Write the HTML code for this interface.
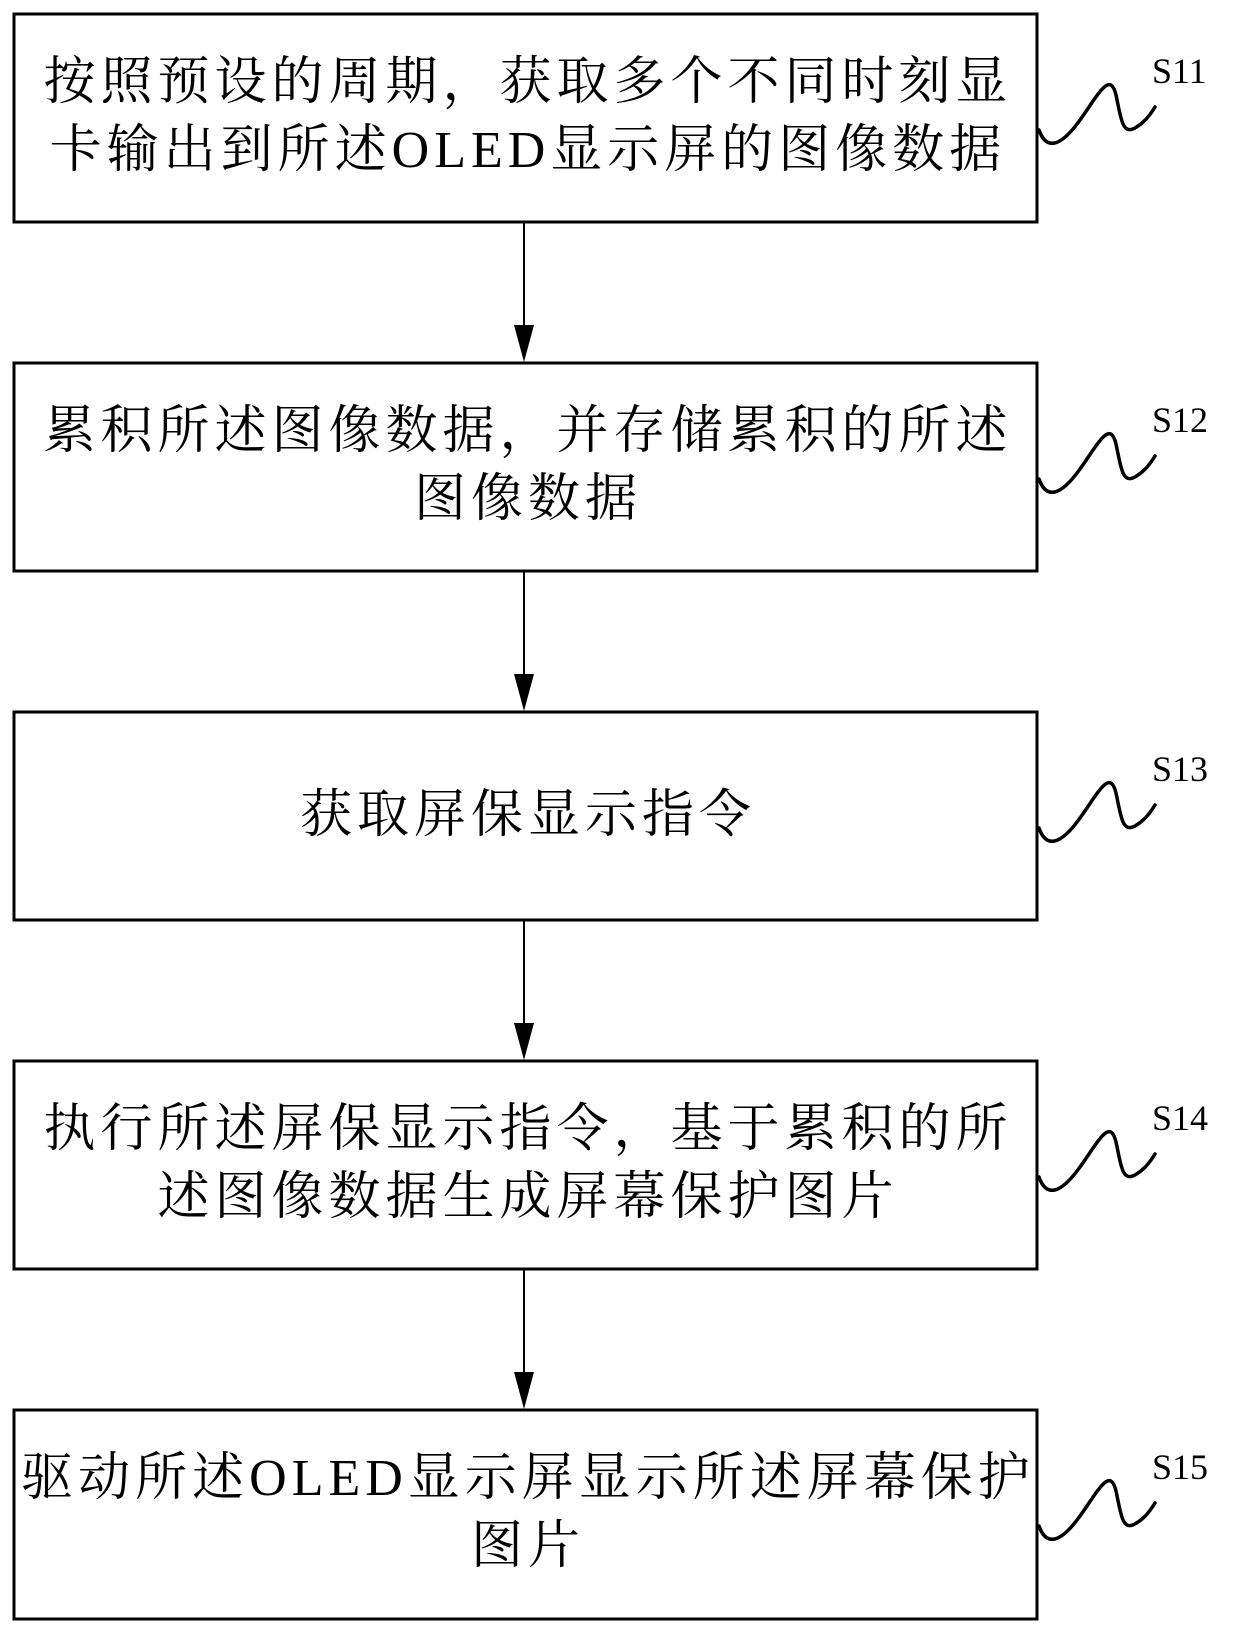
<!DOCTYPE html>
<html><head><meta charset="utf-8"><style>
html,body{margin:0;padding:0;background:#fff;}
svg{display:block;}
.t{font-family:"Liberation Serif","Noto Serif CJK SC",serif;font-size:52px;letter-spacing:5px;fill:#000;}
.l{font-family:"Liberation Serif",serif;font-size:36px;fill:#000;}
</style></head><body>
<svg width="1240" height="1636" viewBox="0 0 1240 1636" xmlns="http://www.w3.org/2000/svg">
<g fill="none" stroke="#000" stroke-width="3">
<rect x="14" y="14" width="1023" height="208"/>
<rect x="14" y="363" width="1023" height="208"/>
<rect x="14" y="712" width="1023" height="208"/>
<rect x="14" y="1061" width="1023" height="208"/>
<rect x="14" y="1410" width="1023" height="209"/>
</g>
<g stroke="#000" stroke-width="2">
<line x1="524" y1="222" x2="524" y2="330"/>
<line x1="524" y1="571" x2="524" y2="679"/>
<line x1="524" y1="920" x2="524" y2="1028"/>
<line x1="524" y1="1269" x2="524" y2="1377"/>
</g>
<g fill="#000">
<polygon points="514,325 534,325 524,362"/>
<polygon points="514,674 534,674 524,711"/>
<polygon points="514,1023 534,1023 524,1060"/>
<polygon points="514,1372 534,1372 524,1409"/>
</g>
<g fill="none" stroke="#000" stroke-width="3.5" stroke-linecap="round">
<path d="M1039,130 C1046,150 1060,148 1080,120 C1098,95 1110,70 1116,95 C1121,118 1122,135 1135,128 C1145,122 1150,115 1155,107" transform="translate(0,0)"/>
<path d="M1039,130 C1046,150 1060,148 1080,120 C1098,95 1110,70 1116,95 C1121,118 1122,135 1135,128 C1145,122 1150,115 1155,107" transform="translate(0,349)"/>
<path d="M1039,130 C1046,150 1060,148 1080,120 C1098,95 1110,70 1116,95 C1121,118 1122,135 1135,128 C1145,122 1150,115 1155,107" transform="translate(0,698)"/>
<path d="M1039,130 C1046,150 1060,148 1080,120 C1098,95 1110,70 1116,95 C1121,118 1122,135 1135,128 C1145,122 1150,115 1155,107" transform="translate(0,1047)"/>
<path d="M1039,130 C1046,150 1060,148 1080,120 C1098,95 1110,70 1116,95 C1121,118 1122,135 1135,128 C1145,122 1150,115 1155,107" transform="translate(0,1396)"/>
</g>
<text class="l" x="1152" y="83">S11</text>
<text class="l" x="1152" y="432">S12</text>
<text class="l" x="1152" y="781">S13</text>
<text class="l" x="1152" y="1130">S14</text>
<text class="l" x="1152" y="1479">S15</text>
<g class="t" text-anchor="middle">
<text x="528" y="99">按照预设的周期，获取多个不同时刻显</text>
<text x="528" y="167">卡输出到所述OLED显示屏的图像数据</text>
<text x="528" y="448">累积所述图像数据，并存储累积的所述</text>
<text x="528" y="516">图像数据</text>
<text x="528" y="832">获取屏保显示指令</text>
<text x="528" y="1146">执行所述屏保显示指令，基于累积的所</text>
<text x="528" y="1214">述图像数据生成屏幕保护图片</text>
<text x="528" y="1495">驱动所述OLED显示屏显示所述屏幕保护</text>
<text x="528" y="1563">图片</text>
</g>
</svg>
</body></html>
